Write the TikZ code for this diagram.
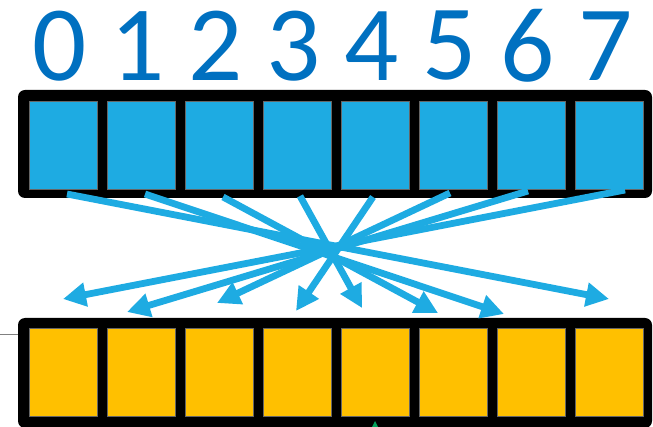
\documentclass[tikz,border=0pt]{standalone}
\usepackage{fontspec}
\setmainfont{Carlito}
\usepackage{xcolor}
\usepackage{tikz}
\usetikzlibrary{positioning, arrows.meta}

\definecolor{cellblue}{RGB}{30,171,226}
\definecolor{cellgold}{RGB}{255,192,0}
\definecolor{digitblue}{RGB}{0,112,192}
\definecolor{markgreen}{RGB}{0,160,90}

\begin{document}
\begin{tikzpicture}[
    x=1pt, y=-1pt,
    bar/.style={fill=black, rounded corners=7pt, inner sep=0pt, minimum width=634pt},
    cell/.style={draw=black!60, line width=0.5pt, inner sep=0pt,
                 minimum width=68pt, minimum height=88pt},
    digit/.style={text=digitblue, inner sep=0pt, font=\fontsize{107}{107}\selectfont},
    flow/.style={draw=cellblue, line width=6.8pt,
                 -{Triangle[length=23pt, width=23pt]}}
  ]
  \useasboundingbox (0,0) rectangle (653,427);

  % the two bars
  \node[bar, minimum height=108pt] (topbar) at (335,144) {};
  \node[bar, minimum height=110pt] (botbar) at (335,373) {};

  % cells and indices
  \foreach \i in {0,...,7} {
    \node[cell, fill=cellblue] (t\i) at (63+78*\i,145) {};
    \node[cell, fill=cellgold] (b\i) at (63+78*\i,372.5) {};
    \node[digit] (n\i) at (60+78*\i,46) {\i};
  }

  % arrow ends
  \foreach \i/\sx/\sy/\ex/\ey in {0/67/194/609/299, 1/145/194/504/314,
      2/223/197/438/313, 3/300/196/362/308, 4/373/197/296/311,
      5/450/193/217/303, 6/528/191/127/312, 7/625/190/63/299} {
    \coordinate (s\i) at (\sx,\sy);
    \coordinate (e\i) at (\ex,\ey);
  }
  \foreach \i in {0,...,7} {
    \draw[flow] (s\i) -- (e\i);
  }

  % bits at the edges
  \coordinate (lead) at (0,334);
  \draw[gray, line width=0.8pt] (lead) -- (botbar.west |- lead);
  \fill[markgreen] (372,427) -- (375,421) -- (378,427) -- cycle;
\end{tikzpicture}
\end{document}
